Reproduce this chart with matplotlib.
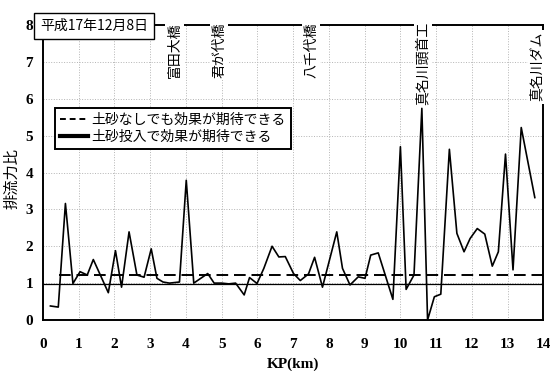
import matplotlib
matplotlib.use("Agg")
import matplotlib.pyplot as plt
from matplotlib.lines import Line2D

# ---- data ----
kp = [0.21, 0.43, 0.63, 0.84, 1.04, 1.24, 1.41, 1.83, 2.03, 2.20, 2.41, 2.63,
      2.83, 3.03, 3.19, 3.36, 3.54, 3.82, 4.01, 4.22, 4.61, 4.79, 5.00, 5.20,
      5.39, 5.63, 5.78, 5.99, 6.18, 6.41, 6.60, 6.78, 7.01, 7.20, 7.43, 7.60,
      7.82, 8.22, 8.38, 8.59, 8.82, 9.01, 9.17, 9.38, 9.79, 10.00, 10.16, 10.38,
      10.60, 10.76, 10.95, 11.13, 11.37, 11.58, 11.78, 11.95, 12.15, 12.36,
      12.57, 12.74, 12.94, 13.15, 13.38, 13.76]
ratio = [0.38, 0.35, 3.16, 0.99, 1.31, 1.22, 1.64, 0.74, 1.88, 0.89, 2.39, 1.22,
         1.16, 1.93, 1.13, 1.03, 1.00, 1.03, 3.79, 1.00, 1.26, 1.00, 1.00, 0.98,
         1.00, 0.68, 1.15, 0.99, 1.40, 2.00, 1.71, 1.72, 1.26, 1.07, 1.25, 1.70,
         0.89, 2.39, 1.40, 0.95, 1.17, 1.13, 1.76, 1.82, 0.56, 4.70, 0.83, 1.22,
         5.74, 0.00, 0.63, 0.70, 4.63, 2.35, 1.85, 2.21, 2.48, 2.33,
         1.46, 1.85, 4.50, 1.36, 5.22, 3.32]

dashed_level = 1.23
solid_level = 0.97
dashed_start = 0.44

place_names = ["富田大橋", "君が代橋", "八千代橋", "真名川頭首工", "真名川ダム"]
place_kp = [3.68, 4.93, 7.50, 10.63, 13.82]
place_top = [8.08, 8.08, 8.08, 8.08, 7.81]

legend_labels = ["土砂なしでも効果が期待できる", "土砂投入で効果が期待できる"]
date_label = "平成17年12月8日"
x_ticks = list(range(0, 15))
y_ticks = list(range(0, 9))

CJK = ["Noto Sans CJK JP", "DejaVu Sans"]
SERIF = "Liberation Serif"

fig = plt.figure(figsize=(5.5, 3.71), dpi=100)
ax = fig.add_axes([0.078, 0.1375, 0.910, 0.795])

ax.set_xlim(0, 14)
ax.set_ylim(0, 8)
ax.set_xticks(x_ticks)
ax.set_yticks(y_ticks)
ax.grid(True, color="#b4b4b4", linestyle=":", linewidth=0.7)
ax.set_axisbelow(True)

ax.plot(kp, ratio, color="black", linewidth=1.2, zorder=3)
ax.plot([dashed_start, 14], [dashed_level, dashed_level], color="black",
        linewidth=1.4, linestyle=(0, (6, 3)), zorder=2)
ax.plot([0, 14], [solid_level, solid_level], color="black", linewidth=0.9, zorder=2)

for s in ax.spines.values():
    s.set_linewidth(1.4)

ax.tick_params(axis="both", length=0)
ax.tick_params(axis="x", pad=13)
ax.tick_params(axis="y", pad=7)
for lab in ax.get_xticklabels() + ax.get_yticklabels():
    lab.set_fontfamily(SERIF)
    lab.set_fontweight("bold")
    lab.set_fontsize(11)

ax.set_xlabel("KP(km)", fontfamily=SERIF, fontweight="bold", fontsize=11)
ax.xaxis.set_label_coords(0.5, -0.128)
ax.set_ylabel("排流力比", family=CJK, fontsize=11)
ax.yaxis.set_label_coords(-0.044, 0.48)

for name, x, yt in zip(place_names, place_kp, place_top):
    ax.text(x, yt, name, rotation=90, ha="center", va="top", family=CJK,
            fontsize=10, clip_on=False, zorder=5,
            bbox=dict(boxstyle="square,pad=0.15", facecolor="white", edgecolor="none"))

fig.text(0.171, 0.930, date_label, ha="center", va="center", family=CJK,
         fontsize=10, zorder=10,
         bbox=dict(boxstyle="square,pad=0.4", facecolor="white", edgecolor="black",
                   linewidth=1.0))

handles = [Line2D([], [], color="black", linewidth=1.4, linestyle=(0, (3, 2))),
           Line2D([], [], color="black", linewidth=3.0)]
leg = ax.legend(handles, legend_labels, loc="upper left",
                bbox_to_anchor=(0.024, 0.719), borderaxespad=0,
                prop={"family": CJK, "size": 10}, frameon=True, fancybox=False,
                framealpha=1, edgecolor="black", borderpad=0.35,
                labelspacing=0.25, handletextpad=0.3, handlelength=2.0)
leg.get_frame().set_linewidth(1.4)
leg.set_zorder(6)

fig.savefig("out.png", dpi=100)
